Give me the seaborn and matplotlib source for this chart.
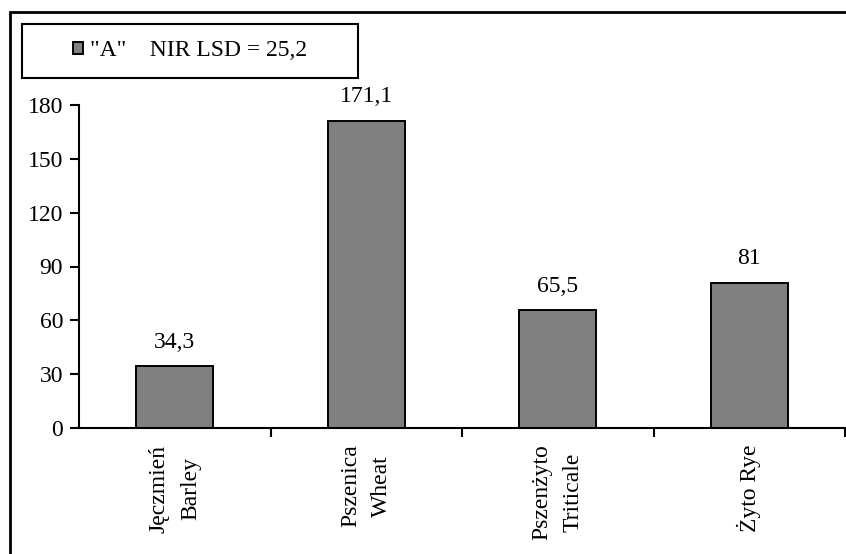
import matplotlib
matplotlib.use("Agg")
import matplotlib.pyplot as plt
from matplotlib.patches import Rectangle, Patch
import seaborn as sns
import pandas as pd

# Grain species (Polish / English) and mean values of trait "A"
categories = ["Jęczmień\nBarley", "Pszenica\nWheat", "Pszenżyto\nTriticale", "Żyto Rye"]
values = [34.3, 171.1, 65.5, 81.0]
y_ticks = [0, 30, 60, 90, 120, 150, 180]
legend_label = '"A"    NIR LSD = 25,2'

df = pd.DataFrame({"species": categories, "value": values})

sns.set_style("ticks")
plt.rcParams["font.family"] = ["Liberation Serif", "DejaVu Serif"]
plt.rcParams["text.color"] = "black"
plt.rcParams["xtick.color"] = "black"
plt.rcParams["ytick.color"] = "black"

FS = 17
W, H = 846, 554
fig = plt.figure(figsize=(W / 100, H / 100), dpi=100)
ax = fig.add_axes([79 / W, 1 - 428 / H, (845 - 79) / W, (428 - 105) / H])

sns.barplot(data=df, x="species", y="value", color="#808080", saturation=1,
            edgecolor="black", linewidth=1.4, width=0.4, ax=ax)

ax.set_xlim(-0.5, 3.5)
ax.set_ylim(0, 180)
ax.set_yticks(y_ticks)
ax.set_xlabel("")
ax.set_ylabel("")
sns.despine(ax=ax)
for side in ("left", "bottom"):
    ax.spines[side].set_linewidth(1.5)
    ax.spines[side].set_color("black")

ax.tick_params(axis="y", direction="out", length=6.5, width=1.5, pad=5, labelsize=FS)
# category labels sit on major ticks without marks; boundary marks use minor ticks
ax.tick_params(axis="x", which="major", length=0, pad=12, labelsize=FS)
ax.set_xticks([0.5, 1.5, 2.5, 3.5], minor=True)
ax.tick_params(axis="x", which="minor", direction="out", length=6.5, width=1.5)
for lab in ax.get_xticklabels():
    lab.set_rotation(90)
    lab.set_ha("center")
    lab.set_va("top")
    lab.set_multialignment("center")
    lab.set_linespacing(1.65)

labels = [f"{v:g}".replace(".", ",") for v in values]
ax.bar_label(ax.containers[0], labels=labels, padding=10, fontsize=FS)

# outer chart frame
fig.patches.append(Rectangle((10 / W, -0.1), 1.2, 1.1 - 12 / H,
                             transform=fig.transFigure, fill=False,
                             edgecolor="black", linewidth=2.0, zorder=0))
# legend frame
fig.patches.append(Rectangle((22 / W, 1 - 78 / H), (358 - 22) / W, (78 - 24) / H,
                             transform=fig.transFigure, fill=False,
                             edgecolor="black", linewidth=1.5, zorder=0))
handle = Patch(facecolor="#808080", edgecolor="black", linewidth=1.4)
fig.legend(handles=[handle], labels=[legend_label], loc="center",
           bbox_to_anchor=(190 / W, 1 - 51 / H), bbox_transform=fig.transFigure,
           frameon=False, fontsize=FS, handlelength=0.45, handleheight=0.45,
           handletextpad=0.3, borderpad=0)

fig.savefig("out.png", dpi=100)
